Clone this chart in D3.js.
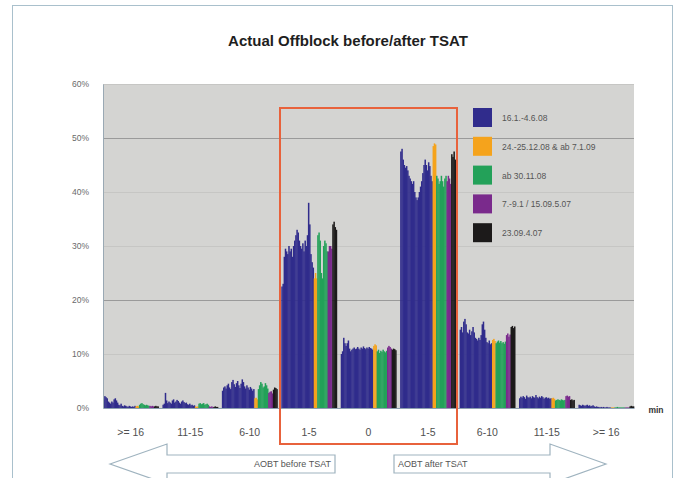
<!DOCTYPE html>
<html><head><meta charset="utf-8">
<script src="https://cdn.jsdelivr.net/npm/d3@7"></script>
<style>body{margin:0;background:#fff;font-family:"Liberation Sans",Arial,sans-serif}</style>
</head><body><svg id="c" width="683" height="478"></svg>
<script>
const groups = [">= 16","11-15","6-10","1-5","0","1-5","6-10","11-15",">= 16"];
const yTicks = [0,0.1,0.2,0.3,0.4,0.5,0.6];
const seriesNames = ["16.1.-4.6.08","24.-25.12.08 & ab 7.1.09","ab 30.11.08","7.-9.1 / 15.09.5.07","23.09.4.07"];
const seriesColors = ["#302c8c","#f5a31c","#23a159","#7a2a8c","#1c1a1a"];
// values in percent, one inner array per group (daily values)
const blue = [
 [1.5,2.2,2.0,1.8,1.2,1.0,0.8,1.2,1.0,1.6,1.8,1.4,1.0,0.6,0.5,0.8,0.4,0.3,0.5,0.4,0.3,0.2,0.4,0.3,0.2,0.3,0.2,0.4],
 [0.6,0.8,2.8,1.4,0.9,1.2,1.0,0.8,1.4,1.6,1.0,1.2,1.5,1.3,1.0,0.8,1.2,1.4,1.1,0.9,1.0,0.7,0.6,0.8,0.5,0.6,0.4,0.5],
 [3.2,3.8,4.0,3.6,4.2,4.5,3.8,3.5,4.8,5.2,4.4,3.9,4.6,5.0,4.2,3.7,4.5,5.3,4.8,4.0,3.6,4.2,3.8,3.4,3.9,3.6,3.2,3.5],
 [22.5,23,28,29.5,29,28.5,30,29,29.5,28,30,31,32,33,32.5,31,30,29.5,30.5,29,31,30,32,38,34,28.5,27,26],
 [10,10.5,13,12,11.5,12,12.5,11,10.5,10.8,11,11.2,10.9,11,11.3,11,10.8,11.2,11,11.4,11.1,10.9,11.2,11,11.3,11.1,11,10.8],
 [47.5,48,46,45,44.5,44.8,44,43,42.5,42,41.5,42,40,39,38.5,39,40,41,42,43.5,45,46,45,44,45.5,44.8,43,42],
 [14.5,15,14,16,16.5,15.5,14,13.8,14.5,13.5,14.2,15,14,13,12.8,12.5,13,12.6,13.5,15.5,16,14.5,13,12.2,12,12.5,11.8,12],
 [1.8,2.1,1.9,2.2,2.0,1.7,2.3,2.0,1.9,2.1,1.8,2.2,2.0,1.9,2.4,2.0,1.8,2.1,1.9,2.2,2.0,1.7,1.9,2.0,1.8,1.9,1.7,1.8],
 [0.6,0.5,0.4,0.6,0.5,0.4,0.5,0.6,0.4,0.5,0.3,0.4,0.5,0.3,0.2,0.3,0.2,0.2,0.1,0.2,0.1,0.2,0.1,0.1,0.2,0.1,0.1,0.1]
];
const orange = [[0.3,0.4,0.3],[0.3,0.2,0.3],[1.8,1.9,1.6],[24,25,24],[11.5,11.8,11.6],[48.5,49,48.8],[12.6,12.8,12.4],[1.8,1.9,1.7],[0.1,0.1,0.1]];
const green = [
 [0.6,0.8,0.9,0.7,0.6,0.5,0.6,0.5,0.4],
 [0.8,0.9,0.7,0.8,0.9,0.6,0.7,0.8,0.6],
 [3.5,4.2,4.8,4.5,3.8,4.0,4.6,4.2,3.6],
 [32,32.5,31,25,24,30,31,30.5,29],
 [10.5,10.8,10.2,10.6,10.4,10.8,10.5,10.3,10.6],
 [43,42.5,41.5,42,43,42,41,42.5,43],
 [12,12.3,12.5,12.1,12.4,12,12.2,11.9,12.3],
 [1.4,1.5,1.6,1.5,1.4,1.6,1.5,1.4,1.5],
 [0.1,0.1,0.2,0.1,0.1,0.1,0.1,0.1,0.1]
];
const purple = [[0.4,0.3,0.4,0.3],[0.3,0.2,0.3,0.2],[2.8,3.0,3.1,2.7],[29,30,30,29.5],[11.2,11.5,11.3,11],[42,43,42.5,41.5],[13.5,13.8,13.2,13.6],[2.2,2.3,2.1,2.2],[0.1,0.1,0.1,0.1]];
const black = [[0.3,0.4,0.3,0.3],[0.2,0.3,0.2,0.2],[3.4,3.8,3.7,3.5],[34,34.5,33.5,33],[10.8,11,10.9,10.7],[47,46.5,47.5,46],[15,15.2,14.8,15.1],[1.5,1.6,1.4,1.5],[0.3,0.4,0.3,0.3]];
const allSeries = [blue, orange, green, purple, black];

const svg = d3.select("#c");
// outer frame
svg.append("rect").attr("x",12.5).attr("y",5.5).attr("width",660).attr("height",500)
  .attr("fill","none").attr("stroke","#a9c0cc").attr("stroke-width",1);

const L = 103, R = 634, T = 84, B = 408;
const x = d3.scaleBand().domain(d3.range(groups.length)).range([L, R]).paddingInner(0.065).paddingOuter(0.0);
const y = d3.scaleLinear().domain([0, 0.6]).range([B, T]);

svg.append("rect").attr("x",L).attr("y",T).attr("width",R-L).attr("height",B-T).attr("fill","#d4d4d2");

// grid
svg.append("g").selectAll("line").data(yTicks.filter(d=>d>0)).join("line")
  .attr("x1",L).attr("x2",R).attr("y1",d=>y(d)+0.5).attr("y2",d=>y(d)+0.5)
  .attr("stroke",d=>(Math.abs(d-0.2)<1e-9||Math.abs(d-0.5)<1e-9)?"#9a9a9a":"#c6c6c4").attr("stroke-width",1);

// bars
const flat = [];
groups.forEach((g,gi)=>{
  let slots = [];
  allSeries.forEach((s,si)=>s[gi].forEach(v=>slots.push({si,v})));
  const sub = d3.scaleBand().domain(d3.range(slots.length)).range([x(gi), x(gi)+x.bandwidth()]);
  slots.forEach((d,k)=>flat.push({x:sub(k), w:sub.bandwidth(), v:d.v/100, c:seriesColors[d.si]}));
});
svg.append("g").selectAll("rect").data(flat).join("rect")
  .attr("x",d=>d.x).attr("width",d=>d.w+0.35)
  .attr("y",d=>y(d.v)).attr("height",d=>B-y(d.v)).attr("fill",d=>d.c);

// axes
const yAxis = d3.axisLeft(y).tickValues(yTicks).tickFormat(d3.format(".0%")).tickSize(0).tickPadding(14);
const ya = svg.append("g").attr("transform",`translate(${L},0)`).call(yAxis);
ya.select(".domain").attr("stroke","#9aa9b4");
ya.selectAll("text").attr("font-size",8.5).attr("fill","#6a6a6a").attr("font-family","Liberation Sans, Arial");

const xAxis = d3.axisBottom(x).tickFormat(i=>groups[i]).tickSize(0).tickPadding(21);
const xa = svg.append("g").attr("transform",`translate(0,${B})`).call(xAxis);
xa.select(".domain").attr("stroke","#8d9fb0");
xa.selectAll("text").attr("font-size",10.5).attr("fill","#505050").attr("font-family","Liberation Sans, Arial");

svg.append("text").attr("x",656).attr("y",413).attr("text-anchor","middle")
  .attr("font-size",8.5).attr("font-weight","bold").attr("fill","#333").text("min");

// title
svg.append("text").attr("x",348).attr("y",46).attr("text-anchor","middle")
  .attr("font-size",15).attr("font-weight","bold").attr("fill","#1e1e1e").text("Actual Offblock before/after TSAT");

// legend
const lg = svg.append("g").attr("transform","translate(473,108)");
seriesNames.forEach((n,i)=>{
  lg.append("rect").attr("x",0).attr("y",i*28.8).attr("width",19).attr("height",19).attr("fill",seriesColors[i]);
  lg.append("text").attr("x",29).attr("y",i*28.8+13).attr("font-size",8.5).attr("fill","#555").text(n);
});

// highlight frame
svg.append("rect").attr("x",280).attr("y",108).attr("width",177).attr("height",336)
  .attr("fill","none").attr("stroke","#e8623c").attr("stroke-width",2);

// arrows
const ay = 464;
svg.append("path").attr("d",`M110,${ay} L167,${ay-20} L167,${ay-9} L335,${ay-9} L335,${ay+9} L167,${ay+9} L167,${ay+20} Z`)
  .attr("fill","#fff").attr("stroke","#9fb3bf").attr("stroke-width",1.2);
svg.append("path").attr("d",`M606,${ay} L550,${ay-20} L550,${ay-9} L394,${ay-9} L394,${ay+9} L550,${ay+9} L550,${ay+20} Z`)
  .attr("fill","#fff").attr("stroke","#9fb3bf").attr("stroke-width",1.2);
svg.append("text").attr("x",331).attr("y",467).attr("text-anchor","end").attr("font-size",9).attr("fill","#555").text("AOBT before TSAT");
svg.append("text").attr("x",398).attr("y",467).attr("font-size",9).attr("fill","#555").text("AOBT after TSAT");
</script></body></html>
